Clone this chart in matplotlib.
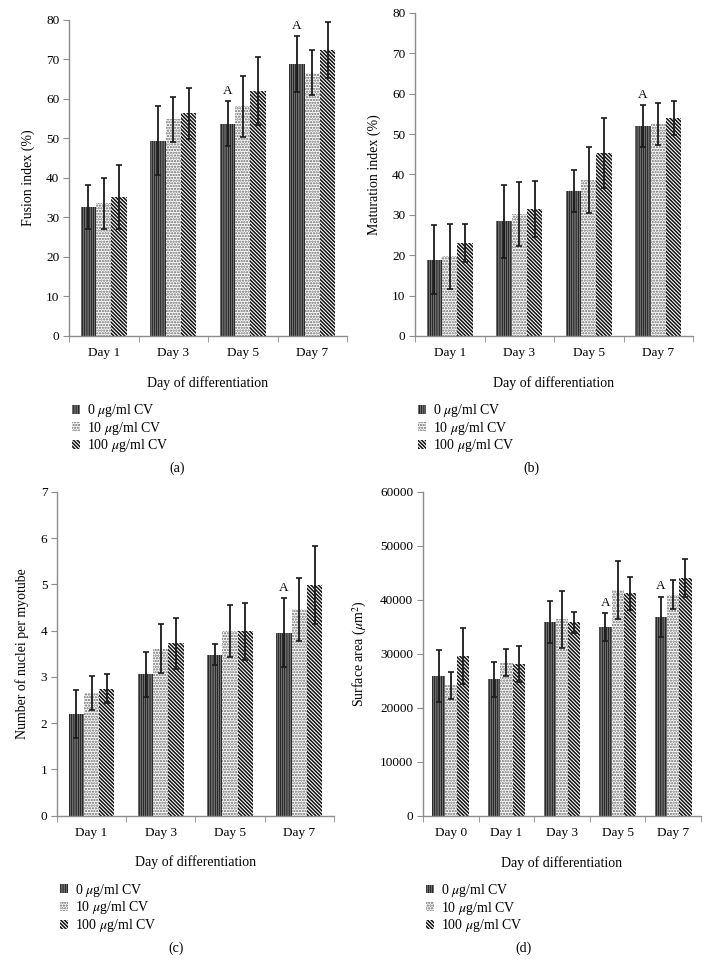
#!/usr/bin/env python3
"""
Recreate the four-panel myotube differentiation bar chart (fusion, maturation,
nuclei per myotube, surface area) with hatched bars and error bars.
"""

import matplotlib
matplotlib.use('Agg')
import matplotlib.pyplot as plt
from matplotlib.patches import Patch
import numpy as np

plt.rcParams['font.family'] = ['Liberation Serif', 'DejaVu Serif']
plt.rcParams['mathtext.fontset'] = 'stix'
plt.rcParams['hatch.linewidth'] = 1.1

# Data
series_labels = [r'0 $\mu$g/ml CV', r'10 $\mu$g/ml CV', r'100 $\mu$g/ml CV']

days_4 = ['Day 1', 'Day 3', 'Day 5', 'Day 7']
days_5 = ['Day 0', 'Day 1', 'Day 3', 'Day 5', 'Day 7']

# (a) fusion index (%)
fusion_mean = [[32.6, 49.4, 53.7, 68.9],
               [33.6, 54.9, 58.1, 66.7],
               [35.2, 56.4, 62.1, 72.4]]
fusion_err = [[5.6, 8.7, 5.7, 7.1],
              [6.4, 5.7, 7.8, 5.7],
              [8.2, 6.5, 8.6, 7.2]]
fusion_marks = [2, 3]

# (b) maturation index (%)
maturation_mean = [[18.9, 28.4, 35.8, 51.9],
                   [19.7, 30.2, 38.6, 52.4],
                   [23.0, 31.5, 45.3, 53.9]]
maturation_err = [[8.5, 9.1, 5.2, 5.2],
                  [8.0, 7.9, 8.1, 5.2],
                  [4.8, 7.0, 8.7, 4.2]]
maturation_marks = [3]

# (c) number of nuclei per myotube
nuclei_mean = [[2.19, 3.06, 3.48, 3.96],
               [2.66, 3.61, 3.99, 4.46],
               [2.75, 3.73, 3.99, 4.99]]
nuclei_err = [[0.52, 0.49, 0.23, 0.75],
              [0.37, 0.53, 0.56, 0.68],
              [0.32, 0.55, 0.62, 0.84]]
nuclei_marks = [3]

# (d) surface area (um^2)
area_mean = [[25930, 25310, 35930, 35000, 36850],
             [24200, 28400, 36420, 41850, 41000],
             [29630, 28150, 35860, 41230, 44010]]
area_err = [[4800, 3270, 3880, 2590, 3770],
            [2530, 2460, 5250, 5370, 2640],
            [5180, 3330, 1980, 3090, 3520]]
area_marks = [3, 4]

HATCHES = ['|' * 9, '.' * 6, '\\' * 9]
HATCH_COLORS = ['#2a2a2a', '#666666', '#111111']
SPINE = '#8c8c8c'
FS = 9.5


def draw_panel(fig, rect, days, means, errs, marks, ylim, ystep, ylabel, tag, tag_x):
    ax = fig.add_axes(rect)
    n = len(days)
    x = np.arange(n)
    w = 0.22
    for i in range(3):
        ax.bar(x + (i - 1) * w, means[i], w, color='white',
               edgecolor=HATCH_COLORS[i], hatch=HATCHES[i], linewidth=0)
        ax.errorbar(x + (i - 1) * w, means[i], yerr=errs[i], fmt='none',
                    ecolor='#1a1a1a', elinewidth=1.3, capsize=2.5, capthick=1.2)

    for d in marks:
        top = means[0][d] + errs[0][d]
        ax.annotate('A', xy=(x[d] - w, top), xytext=(0, 3),
                    textcoords='offset points', ha='center', va='bottom',
                    fontsize=FS)

    ax.set_xlim(-0.5, n - 0.5)
    ax.set_ylim(*ylim)
    ax.set_yticks(np.arange(ylim[0], ylim[1] + ystep / 2, ystep))
    ax.set_xticks(x)
    ax.set_xticklabels(days)
    ax.set_xticks(np.arange(n + 1) - 0.5, minor=True)
    ax.tick_params(axis='x', which='major', length=0, pad=8, labelsize=FS)
    ax.tick_params(axis='x', which='minor', length=4, color=SPINE, direction='out')
    ax.tick_params(axis='y', length=4, color=SPINE, direction='out', labelsize=FS, pad=3)

    for s in ['top', 'right']:
        ax.spines[s].set_visible(False)
    for s in ['left', 'bottom']:
        ax.spines[s].set_color(SPINE)
        ax.spines[s].set_linewidth(1.0)

    ax.set_ylabel(ylabel, fontsize=FS + 0.5, labelpad=8)
    ax.set_xlabel('Day of differentiation', fontsize=FS + 0.5, labelpad=12)

    handles = [Patch(facecolor='white', edgecolor=HATCH_COLORS[i],
                     hatch=HATCHES[i], linewidth=0, label=series_labels[i])
               for i in range(3)]
    left, bottom, width, height = rect
    ax.legend(handles=handles, loc='upper left', frameon=False,
              bbox_to_anchor=(left - 0.004, bottom - 0.062),
              bbox_transform=fig.transFigure, fontsize=FS + 0.5,
              handlelength=0.6, handleheight=0.6, handletextpad=0.5,
              labelspacing=0.05, borderaxespad=0)
    fig.text(tag_x / 708, bottom - 0.136, tag, ha='center', va='center',
             fontsize=FS + 0.5)
    return ax


def main():
    fig = plt.figure(figsize=(7.08, 9.75), dpi=100)

    draw_panel(fig, [0.0975, 0.6554, 0.3927, 0.3241], days_4, fusion_mean,
               fusion_err, fusion_marks, (0, 80), 10, 'Fusion index (%)', '(a)', 177)
    draw_panel(fig, [0.5862, 0.6554, 0.3927, 0.3313], days_4, maturation_mean,
               maturation_err, maturation_marks, (0, 80), 10,
               'Maturation index (%)', '(b)', 531)
    draw_panel(fig, [0.0805, 0.1634, 0.3912, 0.3320], days_4, nuclei_mean,
               nuclei_err, nuclei_marks, (0, 7), 1,
               'Number of nuclei per myotube', '(c)', 176)
    draw_panel(fig, [0.5975, 0.1631, 0.3927, 0.3323], days_5, area_mean,
               area_err, area_marks, (0, 60000), 10000,
               r'Surface area ($\mu$m$^2$)', '(d)', 523)

    fig.savefig('out.png', dpi=100, facecolor='white')


if __name__ == '__main__':
    main()
